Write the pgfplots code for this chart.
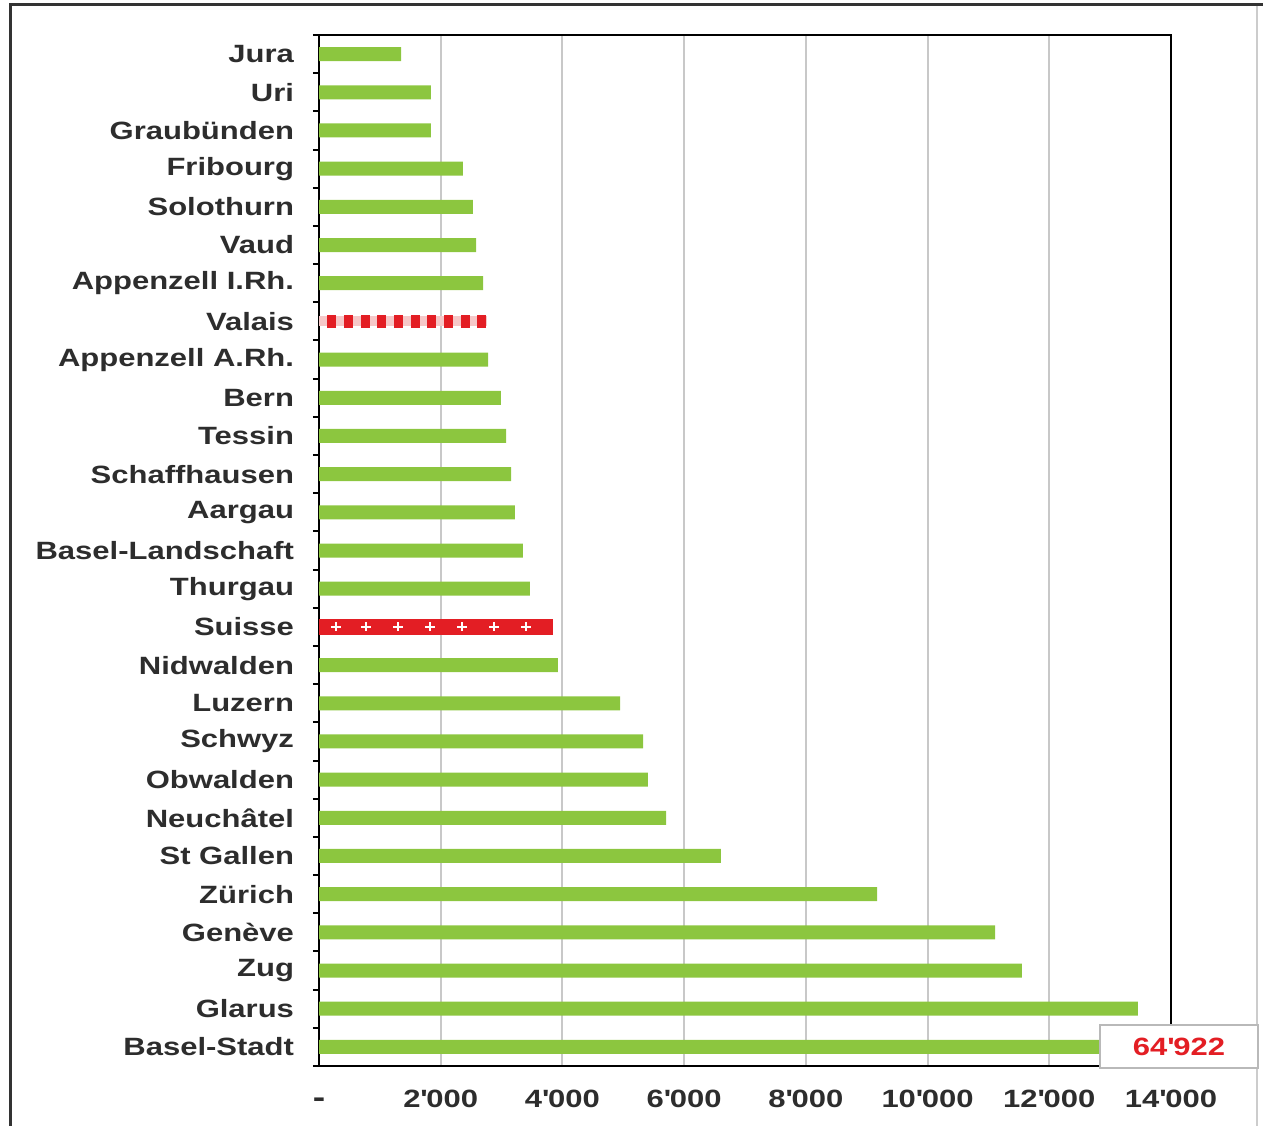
\documentclass[border=0pt]{standalone}
\usepackage{pgfplots}
\pgfplotsset{compat=1.18}
\usepackage{fontspec}
\setmainfont{Liberation Sans}[FakeStretch=1.24]
\definecolor{bargreen}{RGB}{140,198,63}
\definecolor{swissred}{RGB}{227,30,36}
\definecolor{txtgray}{RGB}{45,45,45}
\definecolor{gridgray}{RGB}{200,200,200}
\definecolor{boxgray}{RGB}{185,185,185}
\definecolor{pinkbg}{RGB}{246,200,200}
\begin{document}
\begin{tikzpicture}
\useasboundingbox (0,0) rectangle (631.5bp,563bp);
% outer frame
\draw[line width=1.5bp, color=black!80] (5bp,0) -- (5bp,560.5bp) -- (631.5bp,560.5bp);
\draw[line width=0.8bp, color=black!20] (628.5bp,0) -- (628.5bp,560bp);
\begin{axis}[
  at={(159.5bp,30bp)}, anchor=south west,
  width=426bp, height=515.5bp, scale only axis,
  xbar, bar shift=0pt,
  xmin=0, xmax=14000,
  ymin=-0.5, ymax=26.5, y dir=reverse,
  xtick={0,2000,4000,6000,8000,10000,12000,14000},
  xticklabels={{\fontsize{15bp}{15bp}\selectfont -},2\textquotesingle 000,4\textquotesingle 000,6\textquotesingle 000,8\textquotesingle 000,10\textquotesingle 000,12\textquotesingle 000,14\textquotesingle 000},
  ytick={0,1,...,26},
  yticklabels={Jura,Uri,Graubünden,Fribourg,Solothurn,Vaud,Appenzell I.Rh.,Valais,Appenzell A.Rh.,Bern,Tessin,Schaffhausen,Aargau,Basel-Landschaft,Thurgau,Suisse,Nidwalden,Luzern,Schwyz,Obwalden,Neuchâtel,St Gallen,Zürich,Genève,Zug,Glarus,Basel-Stadt},
  minor ytick={-0.5,0.5,...,26.5},
  tick pos=left,
  major tick length=0pt,
  minor tick length=3bp,
  tick align=outside,
  minor tick style={black, line width=1bp},
  xmajorgrids, grid style={gridgray, line width=1bp},
  axis line style={black, line width=1bp},
  tick label style={font=\fontsize{12.5bp}{14bp}\selectfont\bfseries, text=txtgray},
  yticklabel style={xshift=-9bp},
  xticklabel style={yshift=-8bp, text height=9bp, text depth=0pt},
]
\addplot[xbar, bar shift=0pt, bar width=7bp, fill=bargreen, draw=none] coordinates {
(1350,0) (1840,1) (1840,2) (2366,3) (2530,4) (2580,5) (2695,6)
(2777,8) (2990,9) (3073,10) (3155,11) (3220,12) (3352,13) (3467,14)
(3927,16) (4946,17) (5324,18) (5406,19) (5702,20) (6605,21) (9169,22)
(11108,23) (11551,24) (13457,25) (64922,26)};
% Valais
\addplot[xbar, bar shift=0pt, bar width=5bp, fill=pinkbg, draw=none] coordinates {(2760,7)};
\addplot[only marks, mark=square*, mark size=3.2bp, color=swissred,
  mark options={xscale=0.62, draw=swissred, fill=swissred}] coordinates {
(209,7) (483,7) (757,7) (1031,7) (1305,7) (1579,7) (1853,7) (2127,7) (2401,7) (2675,7)};
% Suisse
\addplot[xbar, bar shift=0pt, bar width=8bp, fill=swissred, draw=none] coordinates {(3845,15)};
\addplot[only marks, mark=+, mark size=2.3bp, color=white, line width=1.2bp] coordinates {
(279,15) (772,15) (1298,15) (1824,15) (2350,15) (2875,15) (3401,15)};
\end{axis}
\node[draw=boxgray, fill=white, line width=1bp, minimum width=79bp, minimum height=21.5bp,
  inner sep=0pt, text=swissred, font=\fontsize{12.5bp}{14bp}\selectfont\bfseries]
  at (589.5bp,39.75bp) {64\textquotesingle 922};
\end{tikzpicture}
\end{document}
